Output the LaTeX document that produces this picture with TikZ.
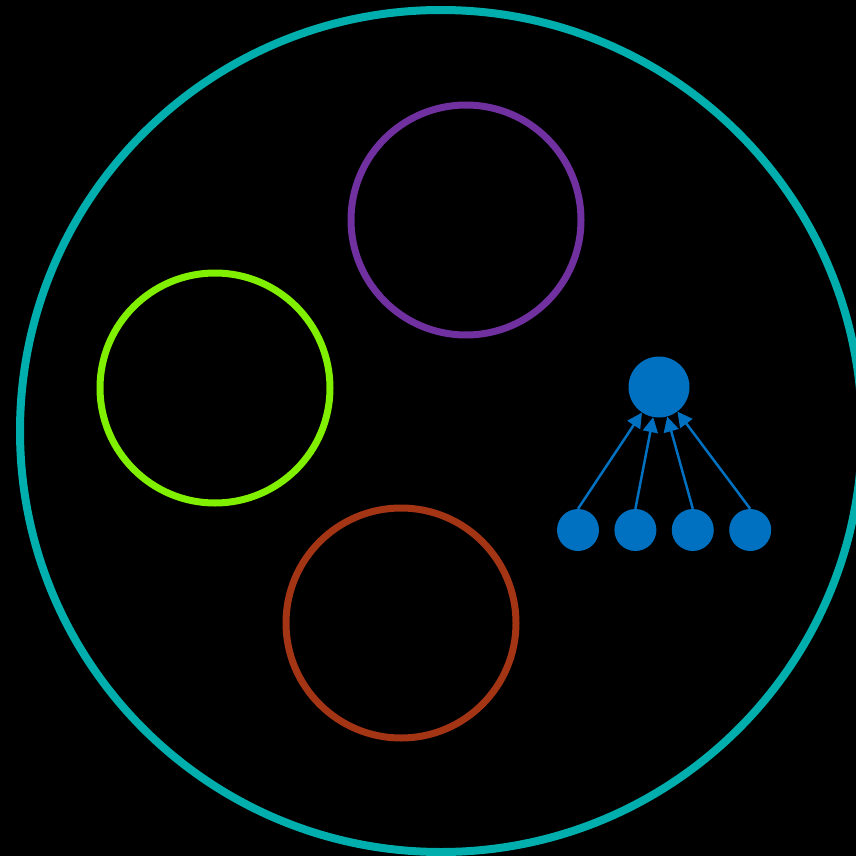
\documentclass[tikz,border=0pt]{standalone}
\usetikzlibrary{arrows.meta,positioning}
\definecolor{SetTeal}{HTML}{00AEAE}
\definecolor{SetPurple}{HTML}{7030A0}
\definecolor{SetLime}{HTML}{80F000}
\definecolor{SetRust}{HTML}{A33414}
\definecolor{SetBlue}{HTML}{0070C0}
\tikzset{
  setring/.style={
    circle,
    draw=#1,
    line width=7pt,
    inner sep=0pt,
    minimum size=230pt
  },
  setdot/.style={
    circle,
    fill=SetBlue,
    inner sep=0pt,
    minimum size=42pt
  },
  setflow/.style={-{Triangle[length=15pt,width=15pt]},draw=SetBlue,line width=2.5pt}
}

\begin{document}
\begin{tikzpicture}[x=1pt,y=-1pt]
  \fill[black] (0,0) rectangle (856,856);
  \useasboundingbox (0,0) rectangle (856,856);

  \node[setring=SetTeal,line width=8pt,minimum size=842pt] (outer) at (441,431) {};
  \node[setring=SetPurple] (purple) at (466,220) {};
  \node[setring=SetLime] (lime) at (215,388) {};
  \node[setring=SetRust] (rust) at (401,623) {};

  \node[setdot,minimum size=61pt] (root) at (659,387) {};
  \node[setdot] (leafA) at (578,530) {};
  \node[setdot,right=15pt of leafA] (leafB) {};
  \node[setdot,right=15pt of leafB] (leafC) {};
  \node[setdot,right=15pt of leafC] (leafD) {};

  \foreach \leaf in {leafA,leafB,leafC,leafD}
    \draw[setflow] (\leaf.north) -- (root);
\end{tikzpicture}
\end{document}
